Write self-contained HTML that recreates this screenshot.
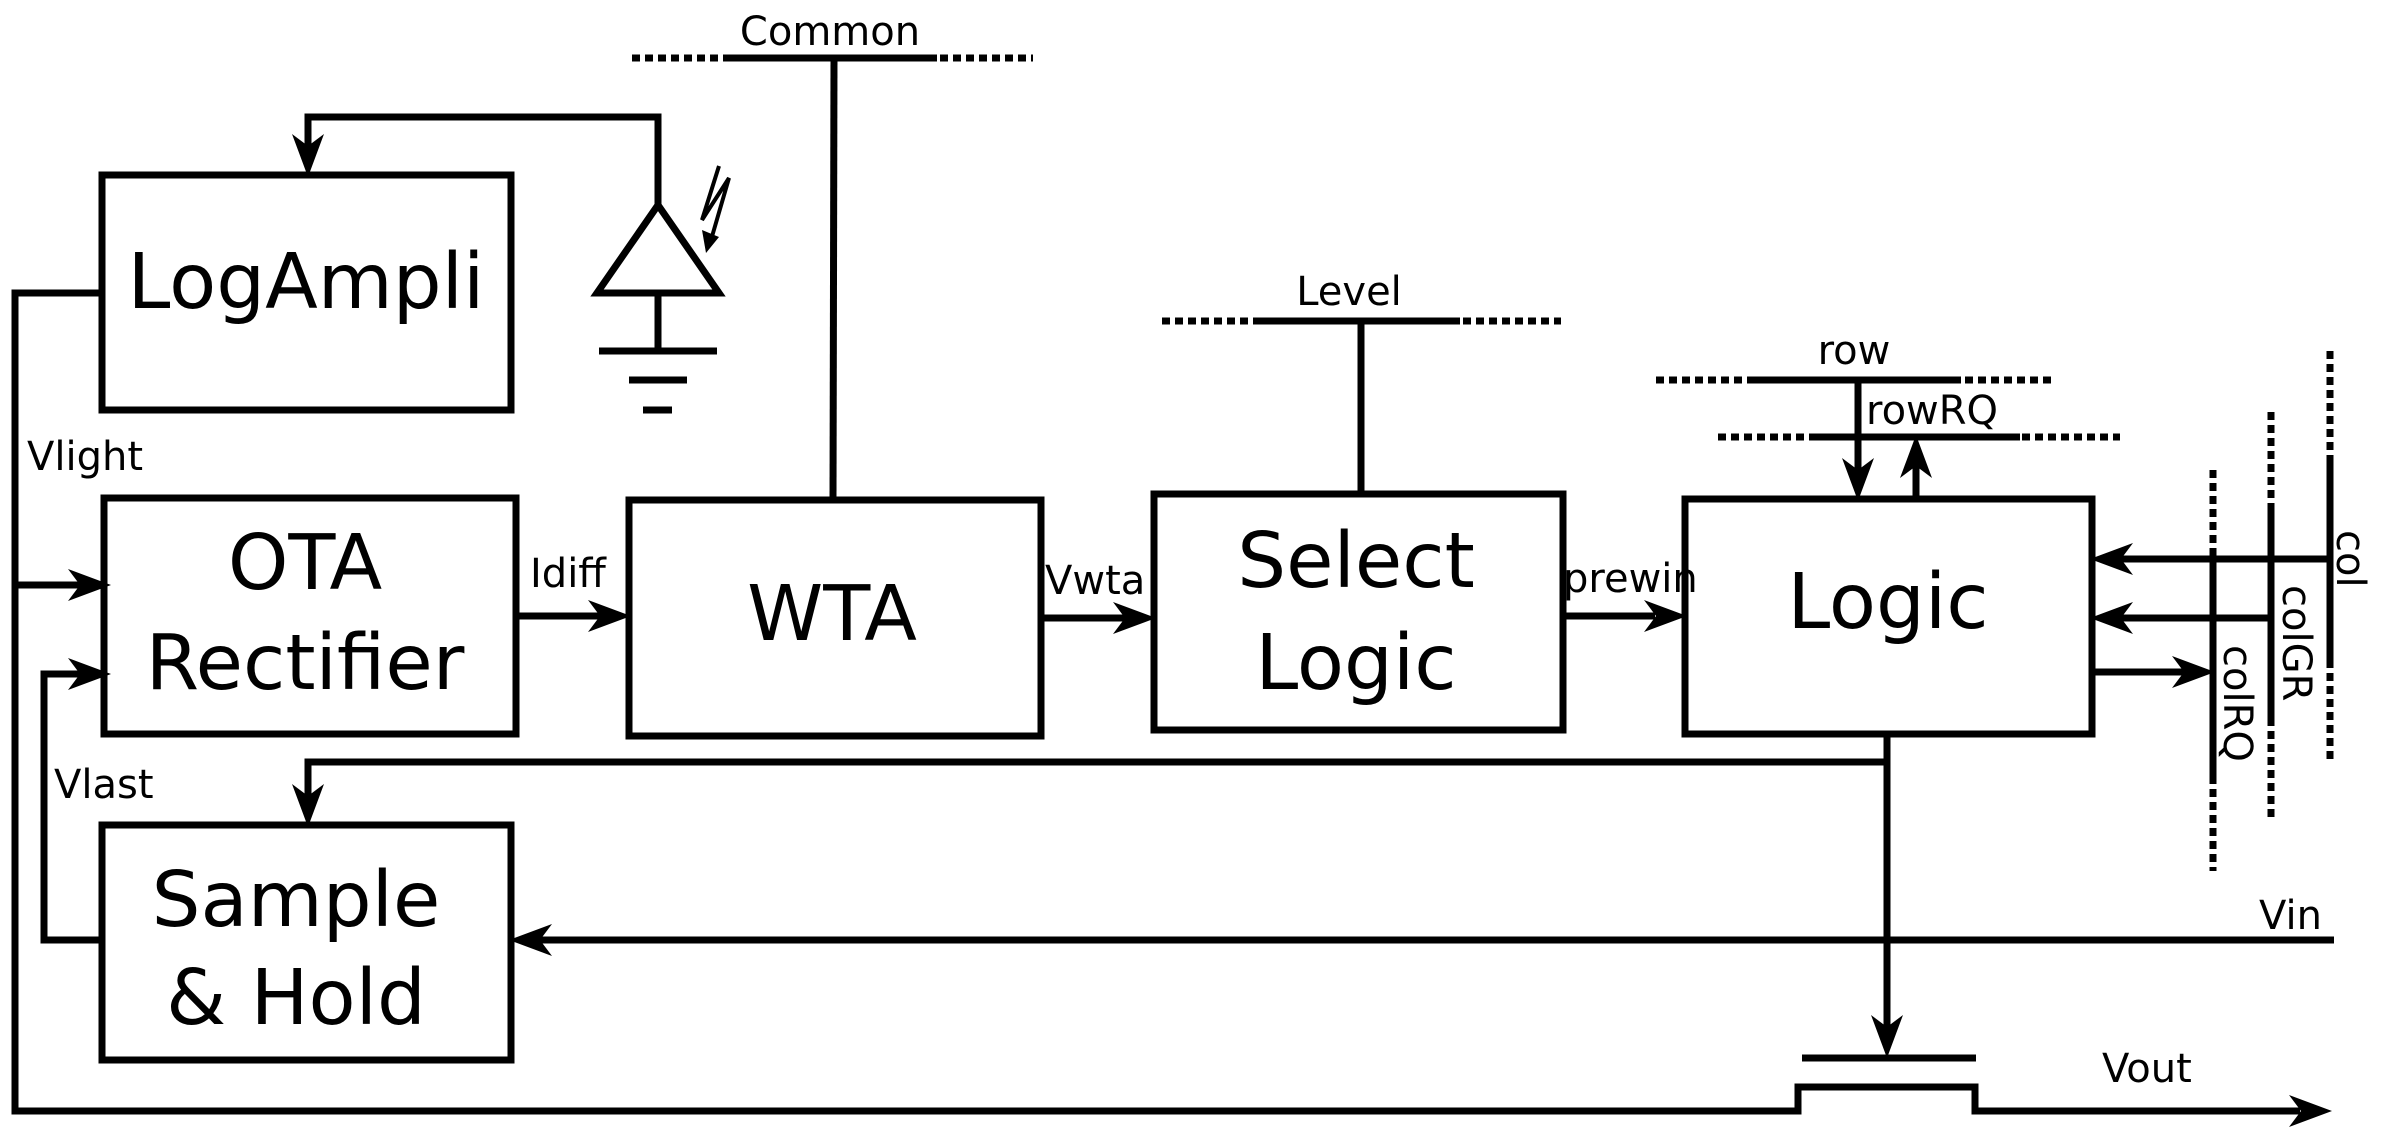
<!DOCTYPE html>
<html><head><meta charset="utf-8"><style>
html,body{margin:0;padding:0;background:#fff;}
svg{display:block;}
text{font-family:"DejaVu Sans","Liberation Sans",sans-serif;fill:#000;}
</style></head><body>
<svg width="2388" height="1141" viewBox="0 0 2388 1141" xmlns="http://www.w3.org/2000/svg">
<g stroke="#000" stroke-width="7" fill="none">
<rect x="102" y="175" width="409" height="235"/>
<rect x="104" y="498" width="412" height="236"/>
<rect x="102" y="825" width="409" height="235"/>
<rect x="629" y="500" width="412" height="236"/>
<rect x="1154" y="494" width="409" height="236"/>
<rect x="1685" y="499" width="407" height="235"/>
<line x1="632" y1="58" x2="723" y2="58" stroke-dasharray="8 5"/>
<line x1="723" y1="58" x2="937" y2="58"/>
<line x1="940" y1="58" x2="1033" y2="58" stroke-dasharray="8 5"/>
<line x1="834" y1="58" x2="833" y2="500"/>
<line x1="1162" y1="321" x2="1257" y2="321" stroke-dasharray="8 5"/>
<line x1="1257" y1="321" x2="1460" y2="321"/>
<line x1="1463" y1="321" x2="1561" y2="321" stroke-dasharray="8 5"/>
<line x1="1361" y1="321" x2="1361" y2="494"/>
<line x1="1656" y1="380" x2="1750" y2="380" stroke-dasharray="8 5"/>
<line x1="1750" y1="380" x2="1961" y2="380"/>
<line x1="1965" y1="380" x2="2056" y2="380" stroke-dasharray="8 5"/>
<line x1="1718" y1="437" x2="1815" y2="437" stroke-dasharray="8 5"/>
<line x1="1815" y1="437" x2="2020" y2="437"/>
<line x1="2022" y1="437" x2="2120" y2="437" stroke-dasharray="8 5"/>
<line x1="1858" y1="380" x2="1858" y2="470"/>
<line x1="1916" y1="499" x2="1916" y2="465"/>
<line x1="2330" y1="351" x2="2330" y2="456" stroke-dasharray="8 5"/>
<line x1="2330" y1="456" x2="2330" y2="660"/>
<line x1="2330" y1="660" x2="2330" y2="762" stroke-dasharray="8 5"/>
<line x1="2271" y1="412" x2="2271" y2="507" stroke-dasharray="8 5"/>
<line x1="2271" y1="507" x2="2271" y2="718"/>
<line x1="2271" y1="718" x2="2271" y2="820" stroke-dasharray="8 5"/>
<line x1="2213" y1="470" x2="2213" y2="565" stroke-dasharray="8 5"/>
<line x1="2213" y1="565" x2="2213" y2="776"/>
<line x1="2213" y1="776" x2="2213" y2="871" stroke-dasharray="8 5"/>
<line x1="2330" y1="559" x2="2120" y2="559"/>
<line x1="2271" y1="618" x2="2120" y2="618"/>
<line x1="2092" y1="672" x2="2185" y2="672"/>
<polyline points="308,150 308,117 658,117 658,205"/>
<polygon points="658,205 597,293 719,293"/>
<line x1="658" y1="293" x2="658" y2="351"/>
<line x1="599" y1="351" x2="717" y2="351"/>
<line x1="629" y1="380" x2="687" y2="380"/>
<line x1="643" y1="410" x2="672" y2="410"/>
<polyline points="719,166 702,220 729,178 711,240" stroke-width="4"/>
<polyline points="102,293 15,293 15,1111 1798,1111 1798,1087 1975,1087 1975,1111 2300,1111"/>
<line x1="15" y1="585" x2="80" y2="585"/>
<polyline points="102,940 44,940 44,674 80,674"/>
<line x1="516" y1="616" x2="600" y2="616"/>
<line x1="1041" y1="618" x2="1125" y2="618"/>
<line x1="1563" y1="616" x2="1655" y2="616"/>
<polyline points="308,800 308,762 1887,762"/>
<line x1="1887" y1="734" x2="1887" y2="1030"/>
<line x1="2334" y1="940" x2="540" y2="940"/>
<line x1="1802" y1="1058" x2="1976" y2="1058"/>
</g>
<g fill="#000">
<polygon points="308,177 292,134 308,146 324,134"/>
<polygon points="111,585 68,569 80,585 68,601"/>
<polygon points="111,674 68,658 80,674 68,690"/>
<polygon points="631,616 588,600 600,616 588,632"/>
<polygon points="1156,618 1113,602 1125,618 1113,634"/>
<polygon points="1687,616 1644,600 1656,616 1644,632"/>
<polygon points="308,827 292,784 308,796 324,784"/>
<polygon points="509,940 552,924 540,940 552,956"/>
<polygon points="1887,1058 1871,1015 1887,1027 1903,1015"/>
<polygon points="1858,501 1842,458 1858,470 1874,458"/>
<polygon points="1916,435 1900,478 1916,466 1932,478"/>
<polygon points="2090,559 2133,543 2121,559 2133,575"/>
<polygon points="2090,618 2133,602 2121,618 2133,634"/>
<polygon points="2215,672 2172,656 2184,672 2172,688"/>
<polygon points="2332,1111 2289,1095 2301,1111 2289,1127"/>
<polygon points="706,253 702,230 719,237"/>
</g>
<g font-size="77" text-anchor="middle">
<text x="306" y="308">LogAmpli</text>
<text x="305" y="589">OTA</text>
<text x="305" y="689">Rectifier</text>
<text x="832" y="640">WTA</text>
<text x="1356" y="587">Select</text>
<text x="1356" y="689">Logic</text>
<text x="1888" y="628">Logic</text>
<text x="296" y="926">Sample</text>
<text x="296" y="1024">&amp; Hold</text>
</g>
<g font-size="40">
<text x="830" y="45" text-anchor="middle">Common</text>
<text x="1349" y="305" text-anchor="middle">Level</text>
<text x="1854" y="364" text-anchor="middle">row</text>
<text x="1866" y="424">rowRQ</text>
<text x="27" y="470">Vlight</text>
<text x="54" y="798">Vlast</text>
<text x="530" y="587">Idiff</text>
<text x="1045" y="594">Vwta</text>
<text x="1563" y="592">prewin</text>
<text x="2259" y="929">Vin</text>
<text x="2102" y="1082">Vout</text>
<text transform="translate(2337,530) rotate(90)">col</text>
<text transform="translate(2283,585) rotate(90)">colGR</text>
<text transform="translate(2224,645) rotate(90)">colRQ</text>
</g>
</svg>
</body></html>
